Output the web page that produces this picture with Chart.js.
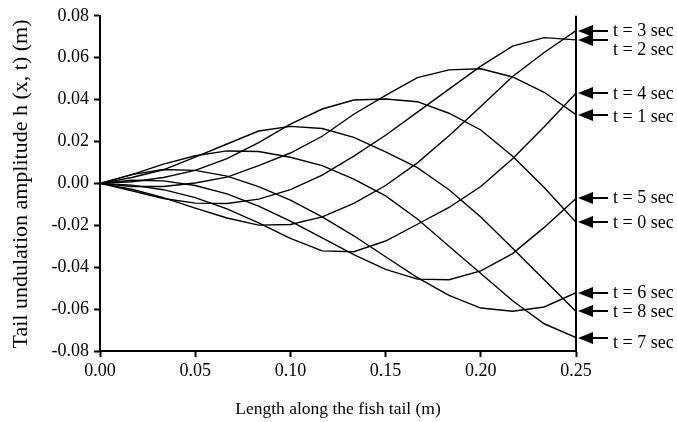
<!DOCTYPE html>
<html>
<head>
<meta charset="utf-8">
<script src="https://cdn.jsdelivr.net/npm/chart.js@4.4.1/dist/chart.umd.min.js"></script>
<style>
  html, body { margin: 0; padding: 0; background: #fff; }
  #wrap { width: 677px; height: 422px; }
</style>
</head>
<body>
<div id="wrap"><canvas id="tailChart" width="677" height="422"></canvas></div>
<script>
// Positions along the tail (m)
const xPos = [0, 0.0167, 0.0333, 0.05, 0.0667, 0.0833, 0.1, 0.1167, 0.1333, 0.15, 0.1667, 0.1833, 0.2, 0.2167, 0.2333, 0.25];

// Undulation amplitude h(x, t) in m, one list per time step
const t0 = [0, 0.0008, 0.0028, 0.0062, 0.0118, 0.0195, 0.0283, 0.0355, 0.0398, 0.0403, 0.0390, 0.0335, 0.0255, 0.0130, -0.0020, -0.0186];
const t1 = [0, -0.0015, -0.0015, 0.0002, 0.0030, 0.0085, 0.0145, 0.0225, 0.0330, 0.0420, 0.0505, 0.0542, 0.0547, 0.0508, 0.0435, 0.0328];
const t2 = [0, -0.0035, -0.0072, -0.0094, -0.0096, -0.0075, -0.0030, 0.0040, 0.0130, 0.0230, 0.0340, 0.0450, 0.0560, 0.0655, 0.0696, 0.0685];
const t3 = [0, -0.0028, -0.0068, -0.0118, -0.0165, -0.0199, -0.0196, -0.0160, -0.0095, -0.0010, 0.0098, 0.0227, 0.0367, 0.0510, 0.0625, 0.0729];
const t4 = [0, -0.0008, -0.0030, -0.0068, -0.0122, -0.0188, -0.0262, -0.0322, -0.0326, -0.0275, -0.0195, -0.0115, -0.0015, 0.0118, 0.0270, 0.0430];
const t5 = [0, 0.0015, 0.0012, -0.0010, -0.0050, -0.0108, -0.0180, -0.0260, -0.0340, -0.0410, -0.0457, -0.0460, -0.0418, -0.0335, -0.0210, -0.0072];
const t6 = [0, 0.0042, 0.0066, 0.0062, 0.0035, -0.0015, -0.0080, -0.0160, -0.0250, -0.0350, -0.0450, -0.0535, -0.0595, -0.0610, -0.0590, -0.0522];
const t7 = [0, 0.0042, 0.0092, 0.0132, 0.0155, 0.0152, 0.0125, 0.0085, 0.0020, -0.0060, -0.0170, -0.0300, -0.0430, -0.0560, -0.0670, -0.0736];
const t8 = [0, 0.0028, 0.0065, 0.0125, 0.0188, 0.0250, 0.0272, 0.0262, 0.0220, 0.0150, 0.0075, -0.0030, -0.0160, -0.0310, -0.0460, -0.0611];

const series = [t0, t1, t2, t3, t4, t5, t6, t7, t8];
const seriesLabels = ['t = 0 sec', 't = 1 sec', 't = 2 sec', 't = 3 sec', 't = 4 sec',
                      't = 5 sec', 't = 6 sec', 't = 7 sec', 't = 8 sec'];
// vertical nudge of each label text from its arrow (px)
const labelShift = [1, 2, 10, 0, 1, 0, 0, 5, 1];

const FONT = "'Liberation Serif', 'Times New Roman', serif";

// Arrows + labels at the tail end, right border, axis titles
const arrowLabels = {
    id: 'arrowLabels',
    afterDraw(chart) {
        const { ctx, chartArea, scales } = chart;
        ctx.save();
        ctx.strokeStyle = '#000';
        ctx.fillStyle = '#000';

        ctx.lineWidth = 2;
        ctx.beginPath();
        ctx.moveTo(chartArea.right, chartArea.top);
        ctx.lineTo(chartArea.right, chartArea.bottom);
        ctx.stroke();

        ctx.font = '18px ' + FONT;
        ctx.textBaseline = 'middle';
        ctx.textAlign = 'left';
        chart.data.datasets.forEach((ds, i) => {
            const last = ds.data[ds.data.length - 1];
            const y = Math.round(scales.y.getPixelForValue(last.y));
            const tip = chartArea.right + 2;
            ctx.beginPath();
            ctx.moveTo(tip, y);
            ctx.lineTo(tip + 15, y - 6);
            ctx.lineTo(tip + 15, y + 6);
            ctx.closePath();
            ctx.fill();
            ctx.lineWidth = 2;
            ctx.beginPath();
            ctx.moveTo(tip + 12, y);
            ctx.lineTo(tip + 30, y);
            ctx.stroke();
            ctx.fillText(ds.label, tip + 35, y + labelShift[i]);
        });

        // axis titles
        ctx.font = '17.5px ' + FONT;
        ctx.textAlign = 'center';
        ctx.fillText('Length along the fish tail (m)', 338, 409);
        ctx.translate(21, 184);
        ctx.rotate(-Math.PI / 2);
        ctx.font = '22px ' + FONT;
        ctx.fillText('Tail undulation amplitude h (x, t) (m)', 0, 0);
        ctx.restore();
    }
};

const fmt = v => (Math.abs(v) < 1e-9 ? 0 : v).toFixed(2);

new Chart(document.getElementById('tailChart').getContext('2d'), {
    type: 'line',
    data: {
        datasets: series.map((vals, i) => ({
            label: seriesLabels[i],
            data: vals.map((v, j) => ({ x: xPos[j], y: v })),
            borderColor: '#000',
            borderWidth: 1.4,
            pointRadius: 0,
            fill: false,
            tension: 0
        }))
    },
    options: {
        responsive: false,
        animation: false,
        layout: { padding: { top: 15, right: 101, left: 0, bottom: 0 } },
        plugins: { legend: { display: false }, tooltip: { enabled: false } },
        scales: {
            x: {
                type: 'linear',
                min: 0,
                max: 0.25,
                afterFit: s => { s.height = 71; },
                border: { display: true, color: '#000', width: 2 },
                grid: { drawOnChartArea: false, drawTicks: true, tickLength: 6, tickColor: '#000', tickWidth: 2 },
                ticks: {
                    stepSize: 0.05,
                    color: '#000',
                    padding: 3,
                    maxRotation: 0,
                    font: { family: FONT, size: 18 },
                    callback: v => fmt(v)
                }
            },
            y: {
                min: -0.08,
                max: 0.08,
                afterFit: s => { s.width = 100; },
                border: { display: true, color: '#000', width: 2 },
                grid: { drawOnChartArea: false, drawTicks: true, tickLength: 6, tickColor: '#000', tickWidth: 2 },
                ticks: {
                    stepSize: 0.02,
                    color: '#000',
                    padding: 5,
                    font: { family: FONT, size: 18 },
                    callback: v => fmt(v)
                }
            }
        }
    },
    plugins: [arrowLabels]
});
</script>
</body>
</html>
